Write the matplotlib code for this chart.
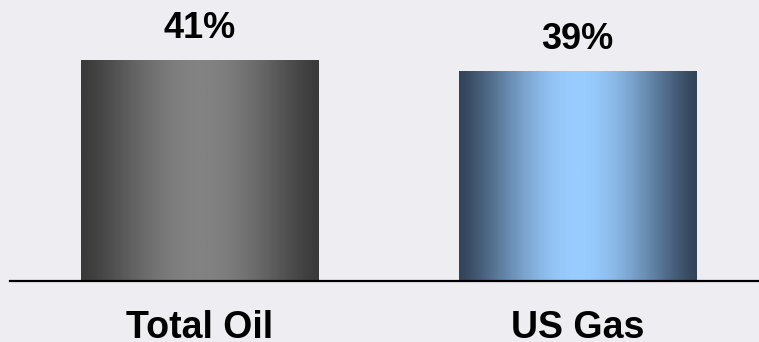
import numpy as np
import matplotlib
matplotlib.use("Agg")
import matplotlib.pyplot as plt
from matplotlib.colors import LinearSegmentedColormap

# data
categories = ["Total Oil", "US Gas"]
values = [41, 39]
value_labels = ["41%", "39%"]
edge_colors = ["#3a3a3a", "#33445a"]
center_colors = ["#828282", "#99ccff"]

bg = "#eeedf2"
plt.rcParams['font.family'] = ['Liberation Sans', 'DejaVu Sans']

fig = plt.figure(figsize=(7.59, 3.42), dpi=100, facecolor=bg)
# baseline at y=281 px from top, line from x=10 px to the right edge
ax = fig.add_axes([10 / 759, 61 / 342, 749 / 759, 281 / 342])
ax.set_facecolor(bg)
ax.set_xlim(-0.501, 1.480)
ax.set_ylim(0, 281 / 5.38)
for s in ["top", "right", "left"]:
    ax.spines[s].set_visible(False)
ax.spines["bottom"].set_linewidth(1.6)
ax.spines["bottom"].set_color("black")
ax.set_xticks([])
ax.set_yticks([])

width = 0.627
x = np.arange(len(categories))
bars = ax.bar(x, values, width=width, color="none", edgecolor="none")

t = np.linspace(0, 1, 256)
profile = np.sin(np.pi * t) ** 1.3
for i, b in enumerate(bars):
    cmap = LinearSegmentedColormap.from_list("g%d" % i, [edge_colors[i], center_colors[i]])
    img = ax.imshow(profile[np.newaxis, :], cmap=cmap, aspect="auto", vmin=0, vmax=1,
                    extent=[x[i] - width / 2, x[i] + width / 2, 0, values[i]],
                    interpolation="bilinear", zorder=2)
    img.set_clip_path(b)
    ax.annotate(value_labels[i], (x[i], values[i]), xytext=(0, 15.8),
                textcoords="offset points", ha="center", va="baseline",
                fontsize=26, fontweight="bold")
    ax.annotate(categories[i], (x[i], 0), xycoords=("data", "figure fraction"),
                xytext=(0, 4 * 0.72), textcoords="offset points", ha="center",
                va="baseline", fontsize=27, fontweight="bold", annotation_clip=False)

ax.set_xlim(-0.501, 1.480)
ax.set_ylim(0, 281 / 5.38)

fig.savefig("out.png", dpi=100, facecolor=bg)
